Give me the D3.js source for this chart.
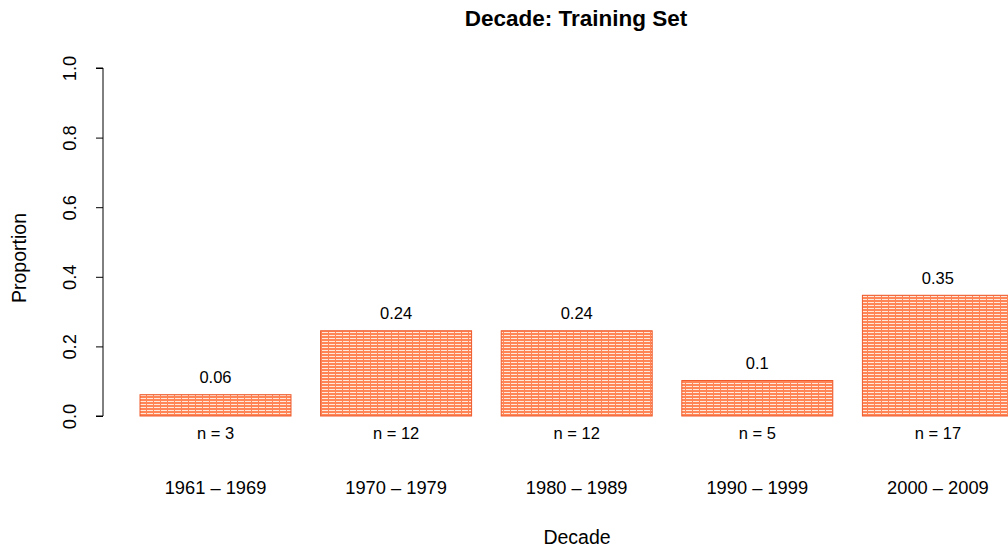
<!DOCTYPE html>
<html>
<head>
<meta charset="utf-8">
<script src="https://cdn.jsdelivr.net/npm/d3@7"></script>
<style>
  body { margin: 0; background: #fff; }
  text { font-family: "Liberation Sans", Arial, Helvetica, sans-serif; fill: #000; }
</style>
</head>
<body>
<div id="chart"></div>
<script>
// Data
var decades = ['1961 \u2013 1969', '1970 \u2013 1979', '1980 \u2013 1989', '1990 \u2013 1999', '2000 \u2013 2009'];
var counts = [3, 12, 12, 5, 17];
var proportions = [0.0612, 0.2449, 0.2449, 0.1020, 0.3469];
var valueLabels = ['0.06', '0.24', '0.24', '0.1', '0.35'];
var yTicks = [0, 0.2, 0.4, 0.6, 0.8, 1.0];

const width = 1008, height = 550;
const axisX = 103;

var svg = d3.select('#chart')
            .append('svg')
            .attr('width', width)
            .attr('height', height);

// hatch pattern for the bars (white lines broken every few px)
var defs = svg.append('defs');
var pat = defs.append('pattern')
    .attr('id', 'hatch')
    .attr('patternUnits', 'userSpaceOnUse')
    .attr('width', 7)
    .attr('height', 3);
pat.append('rect').attr('width', 7).attr('height', 3).attr('fill', '#ff8456');
pat.append('rect').attr('y', 2).attr('width', 6).attr('height', 1).attr('fill', '#ffe8dc');

// Scales
var yScale = d3.scaleLinear()
               .domain([0, 1])
               .range([416, 68]);

// step 180.6, gap 29.6 -> first bar starts at x=140
var xScale = d3.scaleBand()
               .domain(decades)
               .range([125.2, 1028.2])
               .paddingInner(0.164)
               .paddingOuter(0.082);

// Y axis
var yAxis = d3.axisLeft(yScale)
              .tickValues(yTicks)
              .tickSize(7)
              .tickFormat(d3.format('.1f'));

var gy = svg.append('g')
    .attr('transform', `translate(${axisX}, 0)`)
    .call(yAxis);
gy.select('.domain').attr('d', `M-7,${yScale(0)}H0V${yScale(1)}H-7`).attr('stroke', '#000');
gy.selectAll('.tick line').attr('stroke', '#000');
gy.selectAll('.tick text')
  .attr('x', 0).attr('y', 0).attr('dy', null)
  .attr('transform', 'translate(-27,0) rotate(-90)')
  .attr('text-anchor', 'middle')
  .style('font-size', '18.3px')
  .style('font-family', '"Liberation Sans", Arial, sans-serif');

// Bars
var g = svg.append('g');
g.selectAll('rect')
  .data(proportions)
  .enter()
  .append('rect')
  .attr('x', (d, i) => xScale(decades[i]))
  .attr('y', d => yScale(d))
  .attr('width', xScale.bandwidth())
  .attr('height', d => yScale(0) - yScale(d))
  .attr('fill', 'url(#hatch)')
  .attr('stroke', '#ee5a2c')
  .attr('stroke-width', 1);

// value labels above bars
g.selectAll('.val')
  .data(proportions)
  .enter()
  .append('text')
  .attr('class', 'val')
  .attr('x', (d, i) => xScale(decades[i]) + xScale.bandwidth() / 2)
  .attr('y', d => yScale(d) - 11.5)
  .attr('text-anchor', 'middle')
  .style('font-size', '16.5px')
  .text((d, i) => valueLabels[i]);

// n labels below bars
g.selectAll('.n')
  .data(counts)
  .enter()
  .append('text')
  .attr('class', 'n')
  .attr('x', (d, i) => xScale(decades[i]) + xScale.bandwidth() / 2)
  .attr('y', yScale(0) + 23)
  .attr('text-anchor', 'middle')
  .style('font-size', '16.5px')
  .text(d => 'n = ' + d);

// decade labels
g.selectAll('.dec')
  .data(decades)
  .enter()
  .append('text')
  .attr('class', 'dec')
  .attr('x', d => xScale(d) + xScale.bandwidth() / 2)
  .attr('y', 494)
  .attr('text-anchor', 'middle')
  .style('font-size', '18.3px')
  .text(d => d);

// Titles
svg.append('text')
   .attr('x', 576)
   .attr('y', 26)
   .attr('text-anchor', 'middle')
   .style('font-size', '22.5px')
   .style('font-weight', 'bold')
   .text('Decade: Training Set');

svg.append('text')
   .attr('x', 577)
   .attr('y', 544)
   .attr('text-anchor', 'middle')
   .style('font-size', '19.5px')
   .text('Decade');

svg.append('text')
   .attr('transform', 'translate(26, 258) rotate(-90)')
   .attr('text-anchor', 'middle')
   .style('font-size', '19.5px')
   .text('Proportion');
</script>
</body>
</html>
